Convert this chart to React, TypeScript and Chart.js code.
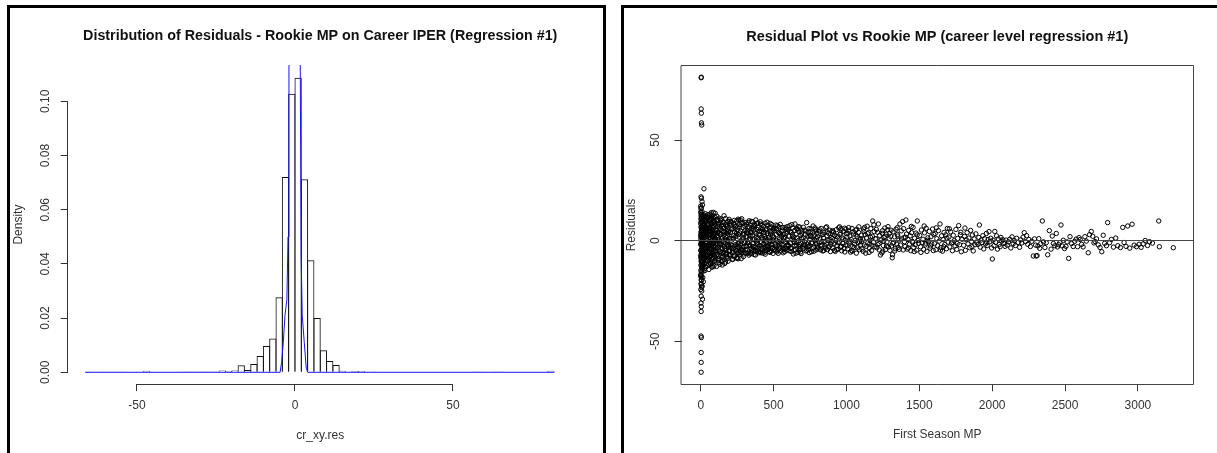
import React, { useEffect, useRef } from "react";
import { Chart, registerables } from "chart.js";

Chart.register(...registerables);

const FONT = '"Liberation Sans", Arial, Helvetica, sans-serif';

// ---------------- Left panel: histogram of residuals ----------------
const histBinMids = [
  -65, -63, -61, -59, -57, -55, -53, -51, -49, -47, -45, -43, -41, -39, -37, -35, -33, -31, -29, -27,
  -25, -23, -21, -19, -17, -15, -13, -11, -9, -7, -5, -3, -1, 1, 3, 5, 7, 9, 11, 13,
  15, 17, 19, 21, 23, 25, 27, 29, 31, 33, 35, 37, 39, 41, 43, 45, 47, 49, 51, 53,
  55, 57, 59, 61, 63, 65, 67, 69, 71, 73, 75, 77, 79, 81,
];
const histDensity = [
  0.0003, 0, 0.0003, 0, 0, 0.0003, 0, 0, 0, 0.0006,
  0, 0, 0, 0, 0, 0.0003, 0.0003, 0.0003, 0.0003, 0.0003,
  0.0003, 0.0007, 0.0005, 0.0007, 0.0026, 0.0008, 0.0031, 0.006, 0.0097, 0.0125,
  0.0277, 0.0721, 0.1028, 0.1087, 0.0712, 0.0413, 0.02, 0.0081, 0.0042, 0.0027,
  0.0006, 0, 0.0005, 0.0005, 0, 0.0003, 0, 0, 0, 0,
  0, 0, 0, 0, 0, 0, 0, 0, 0, 0,
  0, 0.0003, 0.0003, 0, 0.0003, 0.0003, 0, 0, 0, 0,
  0, 0, 0, 0.0006,
];
const densityCurveX = [-66.4, -4.7, -4.2, -3.7, -3.16, -2.55, -2.2, -1.9, -1.0, -0.1, 0.8, 1.65, 1.95, 2.3, 2.94, 3.58, 4.05, 82.1];
const densityCurveY = [0, 0, 0.004, 0.011, 0.021, 0.027, 0.05, 0.12, 0.27, 0.33, 0.27, 0.12, 0.043, 0.021, 0.011, 0.0015, 0, 0];
const densityTicks = [0, 0.02, 0.04, 0.06, 0.08, 0.1];
const densityTickLabels = ["0.00", "0.02", "0.04", "0.06", "0.08", "0.10"];
const resTicks = [-50, 0, 50];
const resTickLabels = ["-50", "0", "50"];

// ---------------- Right panel: residuals vs first season MP ----------------
const mpUnder100 = [
  [1,3.2],[2,-5.1],[0,8.4],[3,-1.2],[5,11.3],[4,-9.8],[1,0.5],[6,-13.4],[2,6.7],[8,-3.3],
  [3,12.9],[0,-7.6],[7,2.1],[9,-11.2],[2,4.4],[11,-0.8],[4,9.6],[1,-14.7],[13,5.3],[6,-6.2],
  [0,1.9],[15,-2.7],[3,13.8],[10,-8.9],[5,7.2],[2,-12.1],[12,3.6],[7,-4.5],[1,10.8],[14,-1.6],
  [18,6.1],[4,-15.6],[9,0.2],[16,-9.3],[0,14.2],[20,2.8],[3,-10.4],[17,-5.9],[6,11.7],[22,-2.2],
  [8,4.9],[1,-16.8],[25,7.8],[5,-0.4],[19,-7.1],[2,9.1],[27,-3.9],[11,12.4],[0,-4.8],[24,1.3],
  [13,-13.2],[30,5.7],[4,-18.2],[21,-6.6],[7,13.1],[32,-1.1],[15,8.3],[3,-19.5],[28,3.4],[10,-10.7],
  [35,-4.2],[1,15.9],[26,10.2],[6,-8.1],[33,6.4],[12,-2.9],[38,-7.4],[2,2.6],[29,12.6],[9,-14.1],
  [40,0.9],[14,7.5],[36,-9.6],[0,-1.7],[31,-12.8],[5,4.1],[42,9.9],[17,-5.3],[23,-11.6],[8,14.6],
  [44,-3.1],[3,-21.3],[39,4.7],[20,11.1],[46,-6.9],[11,-0.3],[34,13.4],[1,-8.6],[45,2.3],[16,-15.1],
  [48,8.8],[7,5.9],[37,-2.4],[2,-17.4],[47,-10.1],[19,3.9],[43,11.8],[4,-12.5],[41,-7.8],[13,1.6],
  [49,5.2],[6,-23.1],[50,-4.9],[0,17.2],[26,-13.9],[10,9.4],[33,-0.6],[18,-9.1],[30,7.1],[3,12.2],
  [21,-3.6],[45,-8.4],[9,6.8],[38,1.1],[15,-6.4],[28,-14.9],[48,12.9],[2,-2.1],[35,10.5],[12,-11.9],
  [52,3.1],[55,-6.2],[58,10.4],[61,-1.8],[64,7.9],[67,-11.3],[70,1.2],[73,12.7],[76,-4.4],[79,5.6],
  [82,-8.7],[85,0.3],[88,9.2],[91,-12.4],[94,3.8],[97,-2.9],[99,13.6],[53,-9.1],[56,6.3],[59,-3.7],
  [62,11.9],[65,-0.9],[68,4.5],[71,-7.3],[74,8.6],[77,-13.2],[80,2.4],[83,-5.5],[86,14.1],[89,-1.3],
  [92,6.9],[95,-9.8],[98,0.7],[51,8.1],[54,-12.0],[57,1.7],[60,-5.9],[63,13.2],[66,-7.9],[69,3.3],
  [72,-2.5],[75,10.9],[78,-10.6],[81,5.0],[84,-3.2],[87,7.4],[90,-6.7],[93,12.1],[96,-0.2],[100,4.2],
  [50,-3.4],[53,9.7],[56,-14.3],[59,2.8],[62,-8.2],[65,6.0],[68,-11.7],[71,10.1],[74,-1.5],[77,3.6],
  [80,-7.0],[83,11.4],[86,-4.8],[89,1.9],[92,-10.3],[95,8.3],[98,-5.1],[58,-0.6],[64,-4.1],[70,7.2],
  [76,-9.4],[82,2.0],[88,-2.6],[94,9.5],[60,4.9],[66,-6.5],[72,13.9],[78,0.1],[84,-12.9],[90,3.0],
];
const mp100to300 = [
  [102,5.4],[105,-7.2],[108,-12.8],[111,2.3],[114,9.8],[117,-3.5],[120,0.6],[123,-9.1],[126,11.2],[129,-1.4],
  [132,6.2],[135,-5.6],[138,3.1],[141,-10.4],[144,7.7],[147,-2.2],[150,1.5],[153,-7.9],[156,9.3],[159,-0.7],
  [162,4.6],[165,-11.3],[168,2.0],[171,-4.3],[174,8.1],[177,-6.1],[180,0.2],[183,5.9],[186,-8.8],[189,3.4],
  [192,-2.9],[195,10.6],[198,-5.0],[101,-3.3],[104,8.7],[107,-0.5],[110,12.2],[113,-6.8],[116,4.0],[119,-9.7],
  [122,1.8],[125,-4.6],[128,7.0],[131,-11.8],[134,-2.0],[137,10.1],[140,-7.4],[143,0.9],[146,5.1],[149,-3.9],
  [152,9.0],[155,-6.3],[158,2.7],[161,-9.5],[164,6.5],[167,-1.1],[170,11.0],[173,-4.9],[176,3.7],[179,-8.0],
  [182,7.3],[185,-0.3],[188,-10.2],[191,4.8],[194,-5.3],[197,1.0],[200,8.4],[103,0.8],[109,-4.0],[115,6.9],
  [121,-7.7],[127,3.9],[133,-1.7],[139,8.9],[145,-5.8],[151,-9.9],[157,4.3],[163,-3.0],[169,7.8],[175,-7.0],
  [181,2.5],[187,9.7],[193,-2.5],[199,-7.6],[112,10.4],[124,-10.9],[136,5.7],[148,-12.1],[160,12.4],[172,-6.6],
  [203,4.1],[206,-6.9],[209,9.3],[212,-2.4],[215,0.9],[218,-9.4],[221,6.0],[224,-4.1],[227,2.5],[230,10.1],
  [233,-7.5],[236,-0.8],[239,7.2],[242,-3.6],[245,3.5],[248,-8.3],[251,5.3],[254,-1.5],[257,10.7],[260,-5.9],
  [263,1.8],[266,8.0],[269,-6.6],[272,-2.1],[275,4.7],[278,-8.9],[281,10.9],[284,0.4],[287,-4.7],[290,6.6],
  [293,-7.9],[296,2.9],[299,-1.0],[205,-3.1],[211,7.9],[217,-5.2],[223,1.3],[229,-8.0],[235,5.8],[241,-1.9],
  [247,9.8],[253,-6.2],[259,3.0],[265,-3.4],[271,10.4],[277,-0.2],[283,-6.0],[289,8.7],[295,-3.0],[207,1.1],
  [220,-9.1],[232,4.4],[244,-4.9],[256,-9.0],[268,6.9],[280,-4.2],[292,3.8],[262,10.2],[250,-2.8],[226,8.6],
];
const mp300to600 = [
  [302,5.0],[306,-4.5],[310,1.9],[314,8.2],[318,-6.4],[322,-0.9],[326,3.7],[330,-7.2],[334,6.3],[338,-2.3],
  [342,0.4],[346,9.6],[350,-5.1],[354,2.8],[358,-1.6],[362,7.0],[366,-6.9],[370,4.3],[374,-3.3],[378,10.3],
  [382,-0.1],[386,5.6],[390,-4.8],[394,1.4],[398,-6.0],[304,9.1],[312,-2.7],[320,4.9],[328,-5.8],[336,1.0],
  [344,-3.8],[352,6.8],[360,-4.3],[368,0.8],[376,-7.1],[384,8.5],[392,-2.0],[400,3.2],[308,-6.1],[316,2.2],
  [324,-1.2],[332,9.9],[340,-6.6],[348,3.9],[356,-2.9],[364,5.4],[372,-5.5],[380,1.7],[388,-1.4],[396,6.5],
  [356,9.4],[340,4.1],[372,8.0],[324,6.9],[388,-5.2],
  [403,2.6],[407,-5.4],[411,8.3],[415,-1.0],[419,4.5],[423,-6.2],[427,0.7],[431,7.1],[435,-3.5],[439,2.0],
  [443,-6.7],[447,5.2],[451,-0.4],[455,9.2],[459,-4.4],[463,1.5],[467,-2.6],[471,6.4],[475,-5.8],[479,3.3],
  [483,-1.8],[487,8.0],[491,-4.0],[495,0.3],[499,5.7],[405,-2.4],[413,6.0],[421,-4.7],[429,3.9],[437,-6.0],
  [445,1.2],[453,-3.0],[461,7.6],[469,-0.8],[477,4.8],[485,-5.1],[493,2.4],[409,9.4],[417,-3.9],[425,5.5],
  [433,-1.5],[441,8.7],[449,-5.0],[457,3.6],[465,-4.1],[473,0.0],[481,6.8],[489,-2.1],[497,-6.3],[442,-2.9],
  [502,1.4],[506,-4.3],[510,6.2],[514,-1.6],[518,3.0],[522,-5.6],[526,7.4],[530,-0.5],[534,4.0],[538,-3.2],
  [542,0.9],[546,8.1],[550,-5.2],[554,2.2],[558,-2.0],[562,5.3],[566,-6.0],[570,1.1],[574,-3.7],[578,6.6],
  [582,-0.9],[586,3.5],[590,-4.7],[594,7.0],[598,-1.9],[504,5.0],[512,-2.7],[520,0.2],[528,-4.9],[536,6.9],
  [544,-1.2],[552,4.6],[560,-3.4],[568,2.9],[576,-5.5],[584,5.8],[592,0.5],[600,-2.5],[516,7.8],[532,-6.3],
  [548,3.2],[564,-0.2],[580,-4.1],[596,4.4],[540,-3.9],
];
const mpDenseBandExtra = [
  [3,-6.8],[5,5.8],[8,-1.9],[10,3.0],[12,-5.2],[14,10.1],[16,0.4],[18,-12.2],[20,7.6],[22,-8.3],
  [24,12.0],[26,-2.5],[28,4.8],[30,-9.9],[32,9.3],[34,-5.7],[36,2.2],[38,-13.0],[40,6.0],[42,-3.6],
  [44,11.0],[46,-0.9],[48,-7.2],[50,8.0],[54,-2.2],[58,5.1],[62,-10.9],[66,1.0],[70,-4.0],[74,11.8],
  [78,-6.0],[82,6.6],[86,-1.0],[90,9.9],[94,-7.7],[98,2.9],[104,-9.0],[110,4.9],[116,-1.6],[122,8.2],
  [128,-5.3],[134,3.0],[140,10.8],[146,-8.4],[152,0.0],[158,6.2],[164,-3.9],[170,-10.6],[176,7.1],[182,-1.9],
  [188,4.4],[194,-7.0],[200,9.6],[206,-2.0],[212,5.5],[218,-6.0],[224,1.0],[230,7.9],[236,-4.4],[242,2.2],
  [248,-8.8],[254,6.7],[260,-1.2],[266,3.9],[272,-5.6],[278,8.9],[284,-3.2],[290,1.4],[296,-6.6],[302,7.4],
  [308,-0.6],[314,4.0],[320,-4.6],[326,9.0],[332,-2.6],[338,2.5],[344,-6.2],[350,5.9],[356,0.7],[362,-3.0],
  [368,7.6],[374,-5.0],[380,3.5],[386,-1.1],[392,8.8],[398,-3.8],[404,4.7],[410,-5.9],[416,1.6],[422,7.9],
  [428,-2.0],[434,4.2],[440,-4.9],[446,0.9],[452,6.1],[458,-3.1],[464,2.8],[470,-5.4],[476,8.6],[482,-0.6],
  [488,4.5],[494,-3.4],[500,1.9],[510,-5.0],[520,5.9],[530,-2.4],[540,3.6],[550,-0.1],[560,6.6],[570,-4.5],
  [580,1.7],[590,-2.3],[600,5.5],[615,-3.8],[630,2.0],[645,-1.0],[660,6.0],[675,-4.6],[690,1.3],[705,-2.0],
  [720,4.8],[735,-3.0],[750,2.6],[765,-4.0],[780,0.3],[795,5.0],
];
const mp600to1000 = [
  [603,2.3],[607,-5.0],[611,7.5],[615,-1.2],[619,4.1],[623,-3.6],[627,0.6],[631,6.3],[635,-6.6],[639,1.8],
  [643,-2.4],[647,8.3],[651,-4.5],[655,3.4],[659,-0.7],[663,5.7],[667,-5.8],[671,0.1],[675,-2.9],[679,6.8],
  [683,-4.0],[687,2.6],[691,-1.5],[695,4.9],[699,-3.1],[605,-2.6],[613,4.6],[621,-5.4],[629,3.0],[637,-0.2],
  [645,5.1],[653,-6.2],[661,1.2],[669,7.0],[677,-1.9],[685,-5.6],[693,3.8],[625,8.0],[641,-4.8],[657,-2.2],
  [673,4.4],[689,-6.4],
  [702,1.5],[706,-3.9],[710,5.2],[714,-0.6],[718,3.1],[722,-5.1],[727,9.0],[731,-1.8],[735,2.4],[739,-4.4],
  [743,6.0],[747,-2.3],[751,0.7],[755,4.6],[759,-5.5],[763,1.9],[767,-1.1],[771,7.3],[775,-3.4],[779,2.8],
  [783,-0.1],[787,5.6],[791,-4.6],[795,1.0],[799,-2.7],[704,6.7],[712,-2.1],[720,0.3],[729,-4.8],[737,4.2],
  [745,-5.9],[753,2.1],[761,-0.9],[769,3.9],[777,-5.2],[785,6.4],[793,-1.5],[741,-2.9],[757,5.9],[797,3.6],
  [802,2.0],[806,-3.3],[810,4.8],[814,-1.0],[818,0.9],[822,-4.6],[826,6.1],[830,-2.2],[834,2.9],[838,-5.1],
  [842,1.3],[846,4.0],[850,-0.4],[854,-3.8],[858,6.5],[862,-1.6],[866,2.5],[870,-4.4],[874,0.2],[878,3.6],
  [882,-2.9],[886,5.2],[890,-5.4],[894,1.6],[898,-0.8],[804,-4.1],[816,5.4],[828,-0.5],[840,3.2],[852,-2.6],
  [864,6.9],[876,-3.1],[888,0.5],[900,4.4],[820,-2.4],[844,-4.9],[868,4.3],[892,-1.9],
  [903,1.1],[907,-3.7],[911,4.3],[915,-1.5],[919,2.6],[923,-5.3],[927,0.0],[931,5.5],[935,-2.5],[939,1.9],
  [943,-4.2],[947,6.4],[951,-0.7],[955,3.1],[959,-3.2],[963,5.9],[967,-5.0],[971,1.4],[975,-1.3],[979,4.6],
  [983,-3.9],[987,6.2],[991,0.4],[995,-2.1],[999,3.5],[905,5.0],[917,-4.8],[929,2.2],[941,-1.0],[953,6.9],
  [965,-2.8],[977,0.8],[989,-5.6],[961,3.8],[933,-4.4],[997,5.7],
];
const mp1000to1500 = [
  [1003,1.8],[1008,-4.0],[1013,4.9],[1018,-1.2],[1023,2.4],[1028,-5.7],[1033,0.6],[1038,6.1],[1043,-2.8],[1048,3.3],
  [1053,-3.4],[1058,0.0],[1063,5.2],[1068,-6.2],[1073,2.0],[1078,-0.9],[1083,4.1],[1088,-4.5],[1093,1.1],[1098,-2.0],
  [1005,-2.5],[1015,6.5],[1025,-0.3],[1035,-4.9],[1045,4.4],[1055,-1.7],[1065,2.9],[1075,-3.6],[1085,6.9],[1095,0.5],
  [1010,3.6],[1040,-5.2],[1070,5.7],[1090,-0.6],
  [1102,2.7],[1107,-4.2],[1112,0.8],[1117,5.8],[1122,-2.1],[1127,3.0],[1132,-6.2],[1137,1.4],[1142,7.2],[1147,-1.0],
  [1152,4.0],[1157,-3.6],[1162,0.2],[1167,6.0],[1172,-4.9],[1177,2.2],[1180,9.8],[1185,-0.8],[1190,4.5],[1195,-3.0],
  [1105,-0.5],[1115,-5.3],[1125,6.6],[1135,-2.8],[1145,3.5],[1155,-5.8],[1165,1.7],[1175,-2.3],[1188,7.9],[1198,1.0],
  [1120,4.6],[1160,-1.6],
  [1203,0.9],[1208,-3.5],[1213,4.2],[1219,8.3],[1223,-1.4],[1228,2.6],[1233,-7.1],[1238,0.3],[1243,-6.1],[1248,5.0],
  [1253,-2.4],[1258,1.6],[1263,6.3],[1268,-4.4],[1273,3.2],[1278,-0.6],[1283,5.4],[1288,-3.1],[1293,1.0],[1298,-4.8],
  [1205,5.6],[1215,-2.0],[1225,-4.6],[1245,3.7],[1255,-0.2],[1265,2.2],[1275,-2.7],[1285,7.0],[1295,3.6],[1250,-5.2],
  [1304,2.1],[1309,-2.6],[1314,-8.5],[1316,-7.0],[1320,4.4],[1325,-0.9],[1330,1.9],[1335,-4.0],[1340,5.7],[1345,-1.7],
  [1350,3.1],[1355,-3.3],[1360,0.4],[1367,8.3],[1371,-2.2],[1376,4.9],[1385,9.5],[1389,-4.6],[1394,1.5],[1398,-0.5],
  [1306,5.2],[1318,-1.3],[1332,-5.1],[1348,6.4],[1362,-4.3],[1378,0.9],[1392,6.0],[1352,2.3],
  [1402,-2.9],[1408,10.3],[1412,3.3],[1417,-4.2],[1422,0.6],[1427,5.1],[1432,-1.8],[1437,2.4],[1442,-5.0],[1447,4.0],
  [1452,-0.3],[1457,6.6],[1462,-3.4],[1467,1.2],[1472,-2.0],[1477,3.8],[1481,-4.7],[1486,9.8],[1491,0.1],[1496,-1.3],
  [1405,1.7],[1425,-3.6],[1445,7.1],[1465,-5.4],[1485,2.9],[1455,-0.9],
];
const mp1500to2000 = [
  [1503,2.6],[1508,-3.0],[1514,5.3],[1519,-1.0],[1525,0.7],[1530,-4.4],[1536,3.9],[1541,-2.1],[1547,6.2],[1552,-5.3],
  [1558,1.4],[1563,-0.4],[1569,4.6],[1574,-3.7],[1580,2.0],[1585,-1.6],[1591,5.8],[1596,-4.9],[1511,-5.8],[1533,7.3],
  [1555,0.2],[1577,-2.6],[1599,3.1],[1544,-1.2],
  [1604,-1.5],[1609,3.6],[1614,-4.5],[1620,1.0],[1626,-2.5],[1631,5.0],[1636,-0.2],[1642,8.3],[1648,-3.4],[1653,2.4],
  [1659,-5.2],[1664,0.6],[1670,4.1],[1675,-1.9],[1681,2.9],[1686,-4.0],[1692,6.1],[1697,-0.7],[1617,6.4],[1645,-4.7],
  [1667,-2.9],[1689,1.3],
  [1703,1.8],[1709,-3.1],[1715,4.4],[1721,-1.1],[1727,-5.0],[1733,2.7],[1739,0.0],[1745,-2.6],[1751,5.6],[1757,-4.3],
  [1763,1.1],[1770,7.5],[1776,-2.0],[1782,3.0],[1788,-5.5],[1794,0.7],[1706,5.9],[1730,-0.8],[1760,-1.4],[1785,4.2],
  [1804,-2.3],[1810,2.1],[1816,-4.8],[1822,0.5],[1828,4.0],[1834,-1.6],[1840,1.3],[1846,-3.5],[1852,5.1],[1858,-0.4],
  [1864,2.8],[1870,-5.1],[1876,0.9],[1882,-2.0],[1888,3.4],[1894,-1.0],[1813,6.3],[1861,-3.0],
  [1903,-1.8],[1908,1.6],[1912,7.8],[1918,-3.2],[1924,0.3],[1930,-0.9],[1936,2.5],[1942,-4.1],[1948,1.0],[1954,-1.6],
  [1960,3.6],[1966,-2.4],[1972,0.6],[1978,4.5],[1984,-0.5],[1990,1.2],[1996,-3.6],[1963,-1.0],
];
const mp2000plus = [
  [2001,-9.1],[2006,0.2],[2012,-2.5],[2018,4.6],[2024,-0.8],[2030,2.4],[2036,-4.2],[2042,0.9],[2048,-1.9],[2054,-3.0],
  [2060,1.6],[2066,-0.2],[2072,0.5],[2080,-1.4],[2088,-2.8],[2095,0.3],
  [2104,-2.2],[2112,-0.6],[2120,0.7],[2128,-3.6],[2136,1.9],[2144,-1.5],[2152,0.0],[2160,-2.4],[2168,1.2],[2178,-0.9],
  [2188,-3.3],[2196,0.4],
  [2204,-1.1],[2212,1.8],[2220,4.0],[2228,-0.5],[2236,2.5],[2244,-1.8],[2252,0.6],[2262,-2.9],[2272,-0.3],[2282,-7.6],
  [2290,0.9],[2298,-2.2],
  [2302,-7.6],[2308,-7.4],[2314,-2.6],[2320,1.0],[2326,-3.8],[2333,-1.5],[2344,9.8],[2352,-0.6],[2362,-3.4],[2371,-1.0],
  [2381,-7.0],[2392,5.0],
  [2404,-4.2],[2412,2.3],[2420,-1.4],[2430,-2.5],[2440,3.6],[2448,-3.1],[2456,-2.0],[2464,-1.0],[2472,7.8],[2480,-2.6],
  [2488,0.2],[2496,-3.9],
  [2506,-2.8],[2514,-0.6],[2525,-8.8],[2534,2.0],[2545,-1.4],[2556,-2.9],[2566,-0.3],[2576,0.8],[2586,-3.0],[2596,1.5],
  [2604,0.6],[2614,-1.8],[2624,-3.1],[2636,2.0],[2646,-0.2],[2659,-6.0],[2668,3.0],[2680,4.6],[2690,2.2],[2698,-1.1],
  [2706,-0.4],[2716,0.9],[2728,-2.1],[2740,-3.4],[2752,-5.5],[2762,2.7],[2772,-1.3],[2784,-2.5],[2792,9.0],
  [2806,-1.0],[2818,0.6],[2832,-3.2],[2848,1.3],[2862,-2.5],[2880,-3.4],[2896,6.6],
  [2905,-0.9],[2918,-2.8],[2930,7.3],[2944,-3.7],[2960,8.2],[2974,-2.2],[2990,-3.0],
  [3008,-1.8],[3022,-3.3],[3036,-1.6],[3050,0.1],[3066,-2.4],[3080,-0.5],[3100,-1.2],[3143,9.8],[3147,-3.0],[3243,-3.5],
];
const extremeResiduals = [
  [3,81],[4,81.3],[3,65.5],[4,63.4],[5,58.6],[7,57.5],[22,25.8],[2,21.8],[5,21.1],[9,19.4],
  [12,17.8],[4,16.4],[0,-17.5],[14,-18.3],[6,-19.6],[18,-20.4],[3,-21.7],[10,-22.6],[1,-24.2],[7,-25.0],
  [3,-27.6],[12,-29.1],[2,-31.0],[4,-32.8],[3,-35.2],[2,-47.4],[4,-48.2],[3,-55.6],[3,-60.5],[3,-65.4],
];
const mpTicks = [0, 500, 1000, 1500, 2000, 2500, 3000];
const mpTickLabels = ["0", "500", "1000", "1500", "2000", "2500", "3000"];
const residualAxisTicks = [-50, 0, 50];
const residualAxisLabels = ["-50", "0", "50"];

// ---------------- helpers ----------------
const crisp = (v: number) => Math.round(v - 0.5) + 0.5;

const rStylePlot = {
  id: "rStylePlot",
  afterDatasetsDraw(chart: any, _args: any, opts: any) {
    const { ctx, chartArea: a, scales } = chart;
    ctx.save();
    ctx.strokeStyle = opts.lineColor || "#333";
    ctx.lineWidth = 1;
    ctx.lineCap = "square";
    ctx.beginPath();
    if (opts.hline !== undefined && opts.hline !== null) {
      const y = crisp(scales.y.getPixelForValue(opts.hline));
      ctx.moveTo(crisp(a.left), y);
      ctx.lineTo(crisp(a.right), y);
    }
    if (opts.box) {
      const l = crisp(a.left), t = crisp(a.top), r = crisp(a.right), b = crisp(a.bottom);
      ctx.rect(l, t, r - l, b - t);
    }
    if (opts.xSpan) {
      const y = crisp(a.bottom);
      ctx.moveTo(crisp(scales.x.getPixelForValue(opts.xSpan[0])), y);
      ctx.lineTo(crisp(scales.x.getPixelForValue(opts.xSpan[1])), y);
    }
    if (opts.ySpan) {
      const x = crisp(a.left);
      ctx.moveTo(x, crisp(scales.y.getPixelForValue(opts.ySpan[0])));
      ctx.lineTo(x, crisp(scales.y.getPixelForValue(opts.ySpan[1])));
    }
    ctx.stroke();
    ctx.restore();
  },
  afterDraw(chart: any, _args: any, opts: any) {
    const { ctx, chartArea: a } = chart;
    ctx.save();
    ctx.font = opts.titleFont;
    ctx.fillStyle = "#111";
    ctx.textAlign = "center";
    ctx.textBaseline = "middle";
    ctx.fillText(opts.title, (a.left + a.right) / 2, opts.titleY);
    ctx.restore();
  },
};

const TICK_COLOR = "#333";
const tickFont = { family: FONT, size: 12 };

function axisGrid() {
  return {
    display: true,
    drawOnChartArea: false,
    drawTicks: true,
    tickLength: 7,
    color: TICK_COLOR,
    lineWidth: 1,
    offset: false,
  };
}

function HistogramPanel() {
  const ref = useRef<HTMLCanvasElement>(null);
  useEffect(() => {
    const chart = new Chart(ref.current as HTMLCanvasElement, {
      type: "bar",
      data: {
        datasets: [
          {
            type: "line",
            order: 0,
            data: densityCurveX.map((x, i) => ({ x, y: densityCurveY[i] })),
            borderColor: "rgb(20,20,255)",
            borderWidth: 1,
            pointRadius: 0,
            tension: 0,
            fill: false,
          } as any,
          {
            type: "bar",
            order: 1,
            data: histBinMids.map((x, i) => ({ x, y: histDensity[i] })),
            backgroundColor: "rgba(255,255,255,0)",
            borderColor: "#111",
            borderWidth: 1,
            borderSkipped: "start",
            barPercentage: 1.158,
            categoryPercentage: 1,
            inflateAmount: 0,
          } as any,
        ],
      },
      options: {
        responsive: false,
        animation: false,
        devicePixelRatio: 1,
        events: [],
        layout: { padding: { left: 0, top: 57, right: 30.2, bottom: 0 } },
        plugins: {
          legend: { display: false },
          tooltip: { enabled: false },
          title: { display: false },
          rStylePlot: {
            title: "Distribution of Residuals - Rookie MP on Career IPER (Regression #1)",
            titleFont: `bold 14.3px ${FONT}`,
            titleY: 28.5,
            xSpan: [-50, 50],
            ySpan: [0, 0.1],
            lineColor: TICK_COLOR,
          },
        } as any,
        scales: {
          x: {
            type: "linear",
            position: "bottom",
            min: -71.92,
            max: 87.92,
            bounds: "data",
            offset: false,
            afterBuildTicks: (s: any) => { s.ticks = resTicks.map((v) => ({ value: v })); },
            afterFit: (s: any) => { s.height = 68.9; },
            border: { display: false },
            grid: axisGrid(),
            ticks: {
              autoSkip: false,
              maxRotation: 0,
              minRotation: 0,
              padding: 7.5,
              color: TICK_COLOR,
              font: tickFont,
              callback: (_v: any, i: number) => resTickLabels[i],
            },
            title: { display: true, text: "cr_xy.res", color: TICK_COLOR, font: tickFont, padding: { top: 0, bottom: 9.8 } },
          },
          y: {
            type: "linear",
            position: "left",
            min: -0.00436,
            max: 0.1134,
            bounds: "data",
            afterBuildTicks: (s: any) => { s.ticks = densityTicks.map((v) => ({ value: v })); },
            afterFit: (s: any) => { s.width = 57.7; },
            border: { display: false },
            grid: axisGrid(),
            ticks: {
              autoSkip: false,
              minRotation: 90,
              maxRotation: 90,
              crossAlign: "center",
              padding: 2.9,
              color: TICK_COLOR,
              font: tickFont,
              callback: (_v: any, i: number) => densityTickLabels[i],
            },
            title: { display: true, text: "Density", color: TICK_COLOR, font: tickFont, padding: { top: 1.3, bottom: 0 } },
          },
        } as any,
      },
      plugins: [rStylePlot as any],
    });
    return () => chart.destroy();
  }, []);
  return (
    <canvas
      ref={ref}
      width={593}
      height={445}
      style={{ position: "absolute", left: 10, top: 8, width: 593, height: 445 }}
    />
  );
}

function ResidualScatterPanel() {
  const ref = useRef<HTMLCanvasElement>(null);
  useEffect(() => {
    const groups = [mpUnder100, mp100to300, mp300to600, mpDenseBandExtra, mp600to1000, mp1000to1500, mp1500to2000, mp2000plus, extremeResiduals];
    const points = groups.flat().map((p) => ({ x: p[0], y: p[1] }));
    const chart = new Chart(ref.current as HTMLCanvasElement, {
      type: "scatter",
      data: {
        datasets: [
          {
            data: points,
            pointStyle: "circle",
            pointRadius: 2.2,
            pointBorderWidth: 1,
            pointBorderColor: "#000",
            pointBackgroundColor: "rgba(0,0,0,0)",
            showLine: false,
          } as any,
        ],
      },
      options: {
        responsive: false,
        animation: false,
        devicePixelRatio: 1,
        events: [],
        layout: { padding: { left: 0, top: 57.7, right: 24, bottom: 0 } },
        plugins: {
          legend: { display: false },
          tooltip: { enabled: false },
          title: { display: false },
          rStylePlot: {
            title: "Residual Plot vs Rookie MP (career level regression #1)",
            titleFont: `bold 14.5px ${FONT}`,
            titleY: 28.5,
            box: true,
            hline: 0,
            lineColor: "#444",
          },
        } as any,
        scales: {
          x: {
            type: "linear",
            position: "bottom",
            min: -132,
            max: 3378,
            bounds: "data",
            offset: false,
            afterBuildTicks: (s: any) => { s.ticks = mpTicks.map((v) => ({ value: v })); },
            afterFit: (s: any) => { s.height = 68.7; },
            border: { display: false },
            grid: axisGrid(),
            ticks: {
              autoSkip: false,
              maxRotation: 0,
              minRotation: 0,
              padding: 7.5,
              color: TICK_COLOR,
              font: tickFont,
              callback: (_v: any, i: number) => mpTickLabels[i],
            },
            title: { display: true, text: "First Season MP", color: TICK_COLOR, font: tickFont, padding: { top: 0, bottom: 10.8 } },
          },
          y: {
            type: "linear",
            position: "left",
            min: -71.4,
            max: 87.0,
            bounds: "data",
            afterBuildTicks: (s: any) => { s.ticks = residualAxisTicks.map((v) => ({ value: v })); },
            afterFit: (s: any) => { s.width = 57.5; },
            border: { display: false },
            grid: axisGrid(),
            ticks: {
              autoSkip: false,
              minRotation: 90,
              maxRotation: 90,
              crossAlign: "center",
              padding: 10.4,
              color: TICK_COLOR,
              font: tickFont,
              callback: (_v: any, i: number) => residualAxisLabels[i],
            },
            title: { display: true, text: "Residuals", color: TICK_COLOR, font: tickFont, padding: { top: 0, bottom: 0 } },
          },
        } as any,
      },
      plugins: [rStylePlot as any],
    });
    return () => chart.destroy();
  }, []);
  return (
    <canvas
      ref={ref}
      width={593}
      height={445}
      style={{ position: "absolute", left: 624, top: 8, width: 593, height: 445 }}
    />
  );
}

export default function App() {
  return (
    <div
      style={{
        position: "fixed",
        left: 0,
        top: 0,
        width: 1217,
        height: 453,
        overflow: "hidden",
        background: "#fff",
      }}
    >
      <div
        style={{
          position: "absolute",
          left: 7,
          top: 5,
          width: 599,
          height: 470,
          boxSizing: "border-box",
          border: "3px solid #000",
        }}
      />
      <div
        style={{
          position: "absolute",
          left: 621,
          top: 5,
          width: 620,
          height: 470,
          boxSizing: "border-box",
          border: "3px solid #000",
        }}
      />
      <HistogramPanel />
      <ResidualScatterPanel />
    </div>
  );
}
